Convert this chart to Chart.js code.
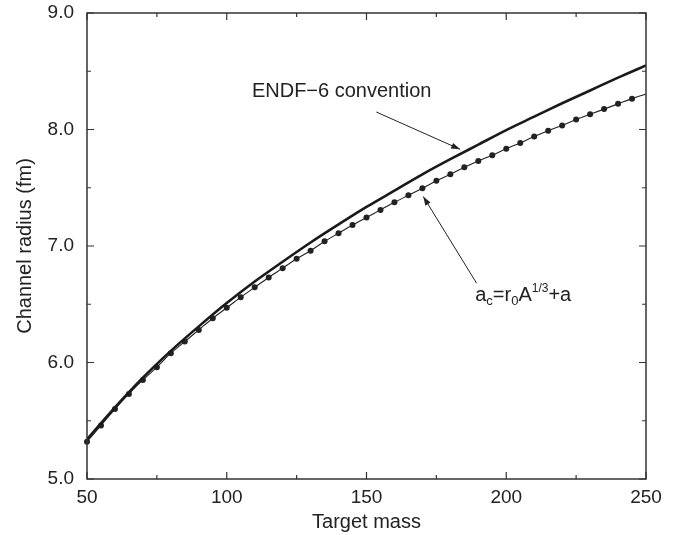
<!DOCTYPE html>
<html>
<head>
<meta charset="utf-8">
<script src="https://cdn.jsdelivr.net/npm/chart.js@4.4.0/dist/chart.umd.min.js"></script>
<style>
html, body { margin: 0; padding: 0; background: #fff; }
#wrap { width: 689px; height: 535px; }
</style>
</head>
<body>
<div id="wrap"><canvas id="myChart" width="689" height="535"></canvas></div>
<script>
// dotted curve a_c = r0 A^(1/3) + a, one point every 5 mass units
var massDots = [50, 55, 60, 65, 70, 75, 80, 85, 90, 95, 100, 105, 110, 115, 120, 125, 130, 135, 140, 145,
	150, 155, 160, 165, 170, 175, 180, 185, 190, 195, 200, 205, 210, 215, 220, 225, 230, 235, 240, 245, 250];
var acValues = [5.32, 5.46, 5.60, 5.73, 5.85, 5.96, 6.08, 6.18, 6.28, 6.38, 6.47, 6.56, 6.645, 6.73, 6.81, 6.89, 6.96, 7.04, 7.11, 7.18,
	7.245, 7.31, 7.375, 7.435, 7.495, 7.56, 7.615, 7.675, 7.73, 7.78, 7.835, 7.885, 7.94, 7.99, 8.035, 8.085, 8.13, 8.175, 8.22, 8.265, 8.305];

// solid curve, ENDF-6 convention
var massEndf = [50, 60, 70, 80, 90, 100, 110, 120, 130, 140, 150, 160, 170, 180, 190, 200, 210, 220, 230, 240, 250];
var endfValues = [5.34, 5.615, 5.87, 6.10, 6.31, 6.51, 6.695, 6.865, 7.03, 7.185, 7.335, 7.475, 7.615, 7.745, 7.87, 7.995, 8.11, 8.225, 8.335, 8.445, 8.55];

var xTicks = [50, 100, 150, 200, 250];
var xMinor = [75, 125, 175, 225];
var yTicks = [5, 6, 7, 8, 9];
var yMinor = [5.5, 6.5, 7.5, 8.5];

var fontFam = '"Liberation Sans", Arial, Helvetica, sans-serif';
var ink = '#222';

function toPts(xs, ys) {
	return xs.map(function (x, i) { return {x: x, y: ys[i]}; });
}

function arrow(ctx, x1, y1, x2, y2) {
	ctx.beginPath();
	ctx.moveTo(x1, y1);
	ctx.lineTo(x2, y2);
	ctx.stroke();
	var ang = Math.atan2(y2 - y1, x2 - x1), len = 9, w = 3;
	ctx.beginPath();
	ctx.moveTo(x2, y2);
	ctx.lineTo(x2 - len * Math.cos(ang) + w * Math.sin(ang), y2 - len * Math.sin(ang) - w * Math.cos(ang));
	ctx.lineTo(x2 - len * Math.cos(ang) - w * Math.sin(ang), y2 - len * Math.sin(ang) + w * Math.cos(ang));
	ctx.closePath();
	ctx.fill();
}

function richText(ctx, parts, x, y) {
	parts.forEach(function (p) {
		ctx.font = p.size + 'px ' + fontFam;
		ctx.fillText(p.t, x, y + p.dy);
		x += ctx.measureText(p.t).width;
	});
}

// frame, inward ticks on all four sides, and the two labelled arrows
var framePlugin = {
	id: 'frame',
	afterDraw: function (chart) {
		var ctx = chart.ctx, a = chart.chartArea;
		var xs = chart.scales.x, ys = chart.scales.y;
		ctx.save();
		ctx.strokeStyle = '#333';
		ctx.lineWidth = 1.5;
		ctx.strokeRect(a.left, a.top, a.right - a.left, a.bottom - a.top);

		ctx.lineWidth = 1.2;
		ctx.beginPath();
		function xt(v, l) {
			var p = xs.getPixelForValue(v);
			ctx.moveTo(p, a.bottom); ctx.lineTo(p, a.bottom - l);
			ctx.moveTo(p, a.top); ctx.lineTo(p, a.top + l);
		}
		function yt(v, l) {
			var p = ys.getPixelForValue(v);
			ctx.moveTo(a.left, p); ctx.lineTo(a.left + l, p);
			ctx.moveTo(a.right, p); ctx.lineTo(a.right - l, p);
		}
		xTicks.forEach(function (v) { xt(v, 7); });
		xMinor.forEach(function (v) { xt(v, 4); });
		yTicks.forEach(function (v) { yt(v, 7); });
		yMinor.forEach(function (v) { yt(v, 4); });
		ctx.stroke();

		// annotations, placed in data units
		ctx.strokeStyle = ink;
		ctx.fillStyle = ink;
		ctx.lineWidth = 1;
		arrow(ctx, xs.getPixelForValue(153.5), ys.getPixelForValue(8.15),
			xs.getPixelForValue(183.5), ys.getPixelForValue(7.83));
		arrow(ctx, xs.getPixelForValue(189.4), ys.getPixelForValue(6.68),
			xs.getPixelForValue(170.3), ys.getPixelForValue(7.425));

		ctx.textBaseline = 'alphabetic';
		ctx.textAlign = 'left';
		richText(ctx, [{t: 'ENDF\u22126 convention', size: 20, dy: 0}],
			xs.getPixelForValue(109), ys.getPixelForValue(8.276));
		richText(ctx, [
			{t: 'a', size: 20, dy: 0},
			{t: 'c', size: 13, dy: 4.5},
			{t: '=r', size: 20, dy: 0},
			{t: '0', size: 13, dy: 4.5},
			{t: 'A', size: 20, dy: 0},
			{t: '1/3', size: 12, dy: -9},
			{t: '+a', size: 20, dy: 0}
		], xs.getPixelForValue(188.9), ys.getPixelForValue(6.528));
		ctx.restore();
	}
};

var ctx = document.getElementById('myChart');
var chart = new Chart(ctx, {
	type: 'line',
	data: {
		datasets: [{
			label: 'ENDF-6 convention',
			data: toPts(massEndf, endfValues),
			borderColor: '#1a1a1a',
			borderWidth: 2.6,
			pointRadius: 0,
			cubicInterpolationMode: 'monotone',
			fill: false
		}, {
			label: 'a_c',
			data: toPts(massDots, acValues),
			borderColor: ink,
			borderWidth: 1.1,
			backgroundColor: ink,
			pointBackgroundColor: ink,
			pointBorderWidth: 0,
			pointRadius: massDots.map(function (m) { return m === 250 ? 0 : 3; }),
			cubicInterpolationMode: 'monotone',
			clip: false,
			fill: false
		}]
	},
	options: {
		responsive: false,
		animation: false,
		devicePixelRatio: 1,
		layout: {padding: {left: 0, right: 43, top: 13, bottom: 0}},
		plugins: {legend: {display: false}, tooltip: {enabled: false}},
		scales: {
			x: {
				type: 'linear',
				min: 50, max: 250,
				afterFit: function (s) { s.height = 56; s.paddingLeft = 0; s.paddingRight = 0; },
				grid: {display: false, drawTicks: false},
				border: {display: false},
				ticks: {stepSize: 50, padding: 7, color: ink, font: {family: fontFam, size: 19}},
				title: {display: true, text: 'Target mass', color: ink, font: {family: fontFam, size: 20}, padding: {top: 0, bottom: 1}}
			},
			y: {
				min: 5, max: 9,
				afterFit: function (s) { s.width = 87; s.paddingTop = 0; s.paddingBottom = 0; },
				grid: {display: false, drawTicks: false},
				border: {display: false},
				ticks: {stepSize: 1, padding: 13, color: ink, font: {family: fontFam, size: 19},
					callback: function (v) { return Number(v).toFixed(1); }},
				title: {display: true, text: 'Channel radius (fm)', color: ink, font: {family: fontFam, size: 20}, padding: {top: 13, bottom: 0}}
			}
		}
	},
	plugins: [framePlugin]
});
</script>
</body>
</html>
